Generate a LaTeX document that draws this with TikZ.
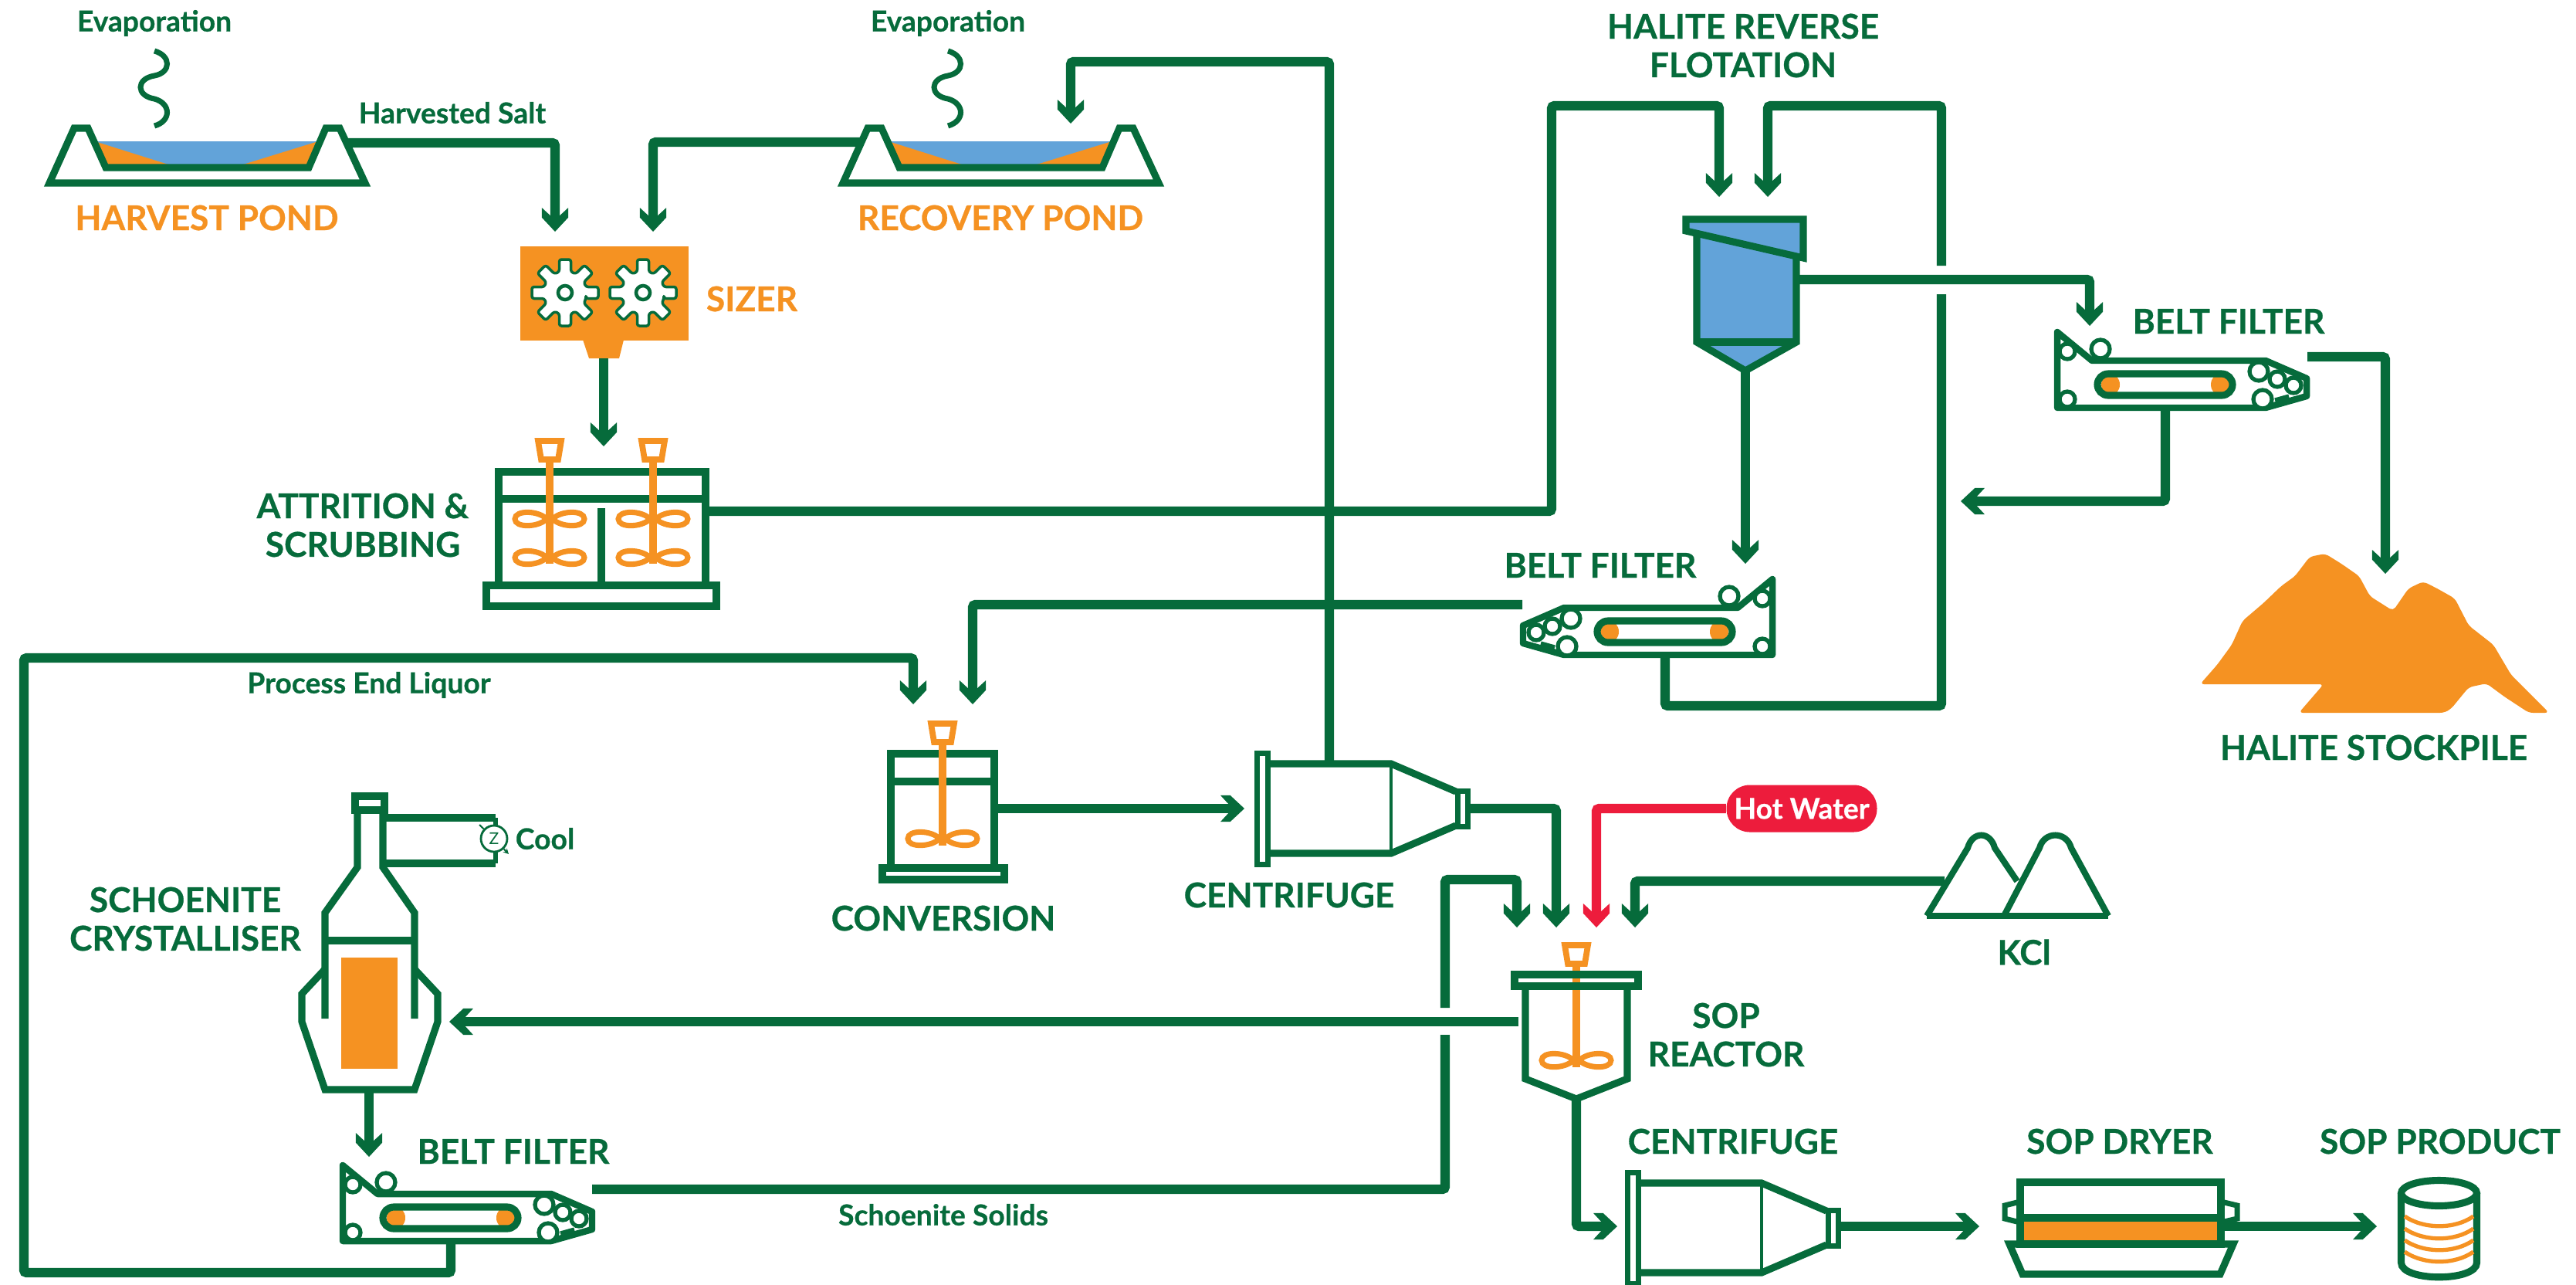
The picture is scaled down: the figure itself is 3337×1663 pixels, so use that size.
\documentclass[tikz,border=0pt]{standalone}
\usepackage{fontspec}
\setmainfont{Lato}[BoldFeatures={FakeBold=0.6}]
\usetikzlibrary{arrows.meta}

\definecolor{pipegreen}{HTML}{066B3B}
\definecolor{solidorange}{HTML}{F59222}
\definecolor{brineblue}{HTML}{62A3D9}
\definecolor{hotred}{HTML}{ED1C3C}

\pgfdeclarearrow{
    name=PipeHead,
    setup code={
        \pgfarrowssettipend{0pt}
        \pgfarrowssetlineend{-5.5pt}
        \pgfarrowssetvisualbackend{-8.8pt}
        \pgfarrowssetbackend{-8.8pt}
    },
    drawing code={
        \pgfpathmoveto{\pgfqpoint{0pt}{0pt}}
        \pgfpathlineto{\pgfqpoint{-5.2pt}{4.85pt}}
        \pgfpathlineto{\pgfqpoint{-8.8pt}{4.85pt}}
        \pgfpathlineto{\pgfqpoint{-5.9pt}{1.7pt}}
        \pgfpathlineto{\pgfqpoint{-5.9pt}{-1.7pt}}
        \pgfpathlineto{\pgfqpoint{-8.8pt}{-4.85pt}}
        \pgfpathlineto{\pgfqpoint{-5.2pt}{-4.85pt}}
        \pgfpathclose
        \pgfusepathqfill
    }
}

\tikzset{
    pipe/.style={draw=pipegreen, line width=3.5pt, rounded corners=1pt},
    flow/.style={pipe, -{PipeHead}},
    unit/.style={draw=pipegreen, line width=2.6pt, line join=miter},
    stirrer/.style={draw=solidorange, line width=2.6pt},
    blade/.style={draw=solidorange, line width=2pt},
    big_label/.style={font=\bfseries\fontsize{12.6}{14.2}\selectfont, text=pipegreen, align=center, inner sep=0pt},
    pond_label/.style={big_label, text=solidorange},
    small_label/.style={font=\bfseries\fontsize{10.6}{12}\selectfont, text=pipegreen, inner sep=0pt},
    pond/.pic={
        \fill[brineblue] (62,-54) -- (348,-54) -- (336,-24) -- (73,-24) -- cycle;
        \fill[solidorange] (62,-53) -- (154,-24) -- (73,-24) -- cycle;
        \fill[solidorange] (345,-53) -- (251,-24) -- (336,-24) -- cycle;
        \draw[unit] (0,0) -- (32,-71) -- (50,-71) -- (73,-20) -- (336,-20) -- (358,-71) -- (376,-71) -- (409,0) -- cycle;
        \draw[draw=pipegreen, line width=2pt] (136,-171) .. controls (158,-165) and (158,-143) .. (136,-139) .. controls (112,-135) and (112,-113) .. (136,-109) .. controls (158,-103) and (158,-80) .. (136,-74);
    },
    gear/.pic={
        \draw[draw=pipegreen, line width=1pt, fill=white, line join=round, rounded corners=0.8pt] (27,7.5) \foreach \a in {0,45,...,315} {-- ([rotate=\a]27,7.5) -- ([rotate=\a]43,7.5) -- ([rotate=\a]43,-7.5) -- ([rotate=\a]27,-7.5)} -- cycle;
        \draw[draw=pipegreen, line width=1.3pt, fill=white] (0,0) circle[radius=9];
    },
    cup/.pic={
        \draw[draw=solidorange, line width=2.2pt, fill=white] (-15,-28) -- (15,-28) -- (11,-4) -- (-11,-4) -- cycle;
    },
    blades/.pic={
        \draw[blade] (-4,0) .. controls (-14,-11) and (-45,-12) .. (-45,0) .. controls (-45,12) and (-14,11) .. (-4,0);
        \draw[blade] (4,0) .. controls (14,-11) and (45,-12) .. (45,0) .. controls (45,12) and (14,11) .. (4,0);
    },
    belt_filter/.pic={
        \fill[solidorange] (69,-30) ellipse[x radius=12, y radius=14];
        \fill[solidorange] (211,-30) ellipse[x radius=12, y radius=14];
        \draw[unit, line join=round, line width=2.4pt] (0,0) -- (0,-98) -- (45,-61) -- (270,-61) -- (323,-38) -- (323,-15) -- (270,0) -- cycle;
        \draw[unit, rounded corners=4pt] (52,-44) rectangle (227,-16);
        \draw[draw=pipegreen, line width=1.5pt, fill=white] (13,-73) circle[radius=10];
        \draw[draw=pipegreen, line width=1.5pt, fill=white] (56,-76) circle[radius=12];
        \draw[draw=pipegreen, line width=1.5pt, fill=white] (13,-11) circle[radius=10];
        \draw[draw=pipegreen, line width=1.5pt, fill=white] (261,-47) circle[radius=12];
        \draw[draw=pipegreen, line width=1.5pt, fill=white] (285,-37) circle[radius=10];
        \draw[draw=pipegreen, line width=1.5pt, fill=white] (306,-29) circle[radius=10];
        \draw[draw=pipegreen, line width=1.5pt, fill=white] (266,-11) circle[radius=12];
        \draw[draw=pipegreen, line width=1.5pt] (282,-10) -- (300,-15);
    },
    centrifuge/.pic={
        \draw[unit, line width=2pt] (3.5,-72) rectangle (17.5,72);
        \draw[unit] (21,-58) -- (177,-58) -- (261,-22);
        \draw[unit] (21,58) -- (177,58) -- (261,22);
        \draw[draw=pipegreen, line width=1.2pt] (177,-58) -- (177,58);
        \draw[unit, line width=2pt] (263,-23) rectangle (276,23);
    },
}

\begin{document}
\begin{tikzpicture}[x=0.1mm, y=-0.1mm]
    \useasboundingbox (0,0) rectangle (3337,1663);

    \coordinate (harvest_out) at (450,185) ;
    \coordinate (recovery_out) at (1116,184) ;
    \coordinate (recovery_in) at (1387,160) ;
    \coordinate (recycle_corner) at (1387,80) ;
    \coordinate (sizer_in_a) at (719,300) ;
    \coordinate (sizer_in_b) at (846,300) ;
    \coordinate (sizer_out) at (782,464) ;
    \coordinate (attrition_in) at (782,578) ;
    \coordinate (attrition_out) at (914,662) ;
    \coordinate (flot_corner_a) at (2010,137) ;
    \coordinate (flot_corner_b) at (2515,137) ;
    \coordinate (flot_in_a) at (2227,255) ;
    \coordinate (flot_in_b) at (2290,255) ;
    \coordinate (flot_side) at (2327,362) ;
    \coordinate (flot_bottom) at (2261,480) ;
    \coordinate (gap_high) at (2515,344) ;
    \coordinate (gap_low) at (2515,381) ;
    \coordinate (return_corner) at (2515,914) ;
    \coordinate (belt_top_in) at (2707,422) ;
    \coordinate (belt_top_out) at (2989,462) ;
    \coordinate (belt_top_under) at (2805,528) ;
    \coordinate (halite_return) at (2540,649) ;
    \coordinate (stock_in) at (3090,743) ;
    \coordinate (belt_mid_in) at (2261,730) ;
    \coordinate (belt_mid_out) at (1972,783) ;
    \coordinate (belt_mid_under) at (2157,848) ;
    \coordinate (conv_in_a) at (1183,912) ;
    \coordinate (conv_in_b) at (1260,912) ;
    \coordinate (conv_out) at (1288,1047) ;
    \coordinate (liquor_a) at (31,1648) ;
    \coordinate (liquor_b) at (1183,852) ;
    \coordinate (cent_a_in) at (1612,1047) ;
    \coordinate (cent_a_top) at (1722,989) ;
    \coordinate (cent_a_out) at (1901,1047) ;
    \coordinate (reactor_in_a) at (1965,1201) ;
    \coordinate (reactor_in_b) at (2016,1201) ;
    \coordinate (reactor_in_c) at (2068,1201) ;
    \coordinate (reactor_in_d) at (2118,1201) ;
    \coordinate (reactor_left) at (1967,1323) ;
    \coordinate (reactor_bottom) at (2042,1423) ;
    \coordinate (solids_corner) at (1965,1139) ;
    \coordinate (kcl_out) at (2519,1141) ;
    \coordinate (cryst_in) at (582,1323) ;
    \coordinate (cryst_out) at (478,1411) ;
    \coordinate (belt_low_in) at (478,1498) ;
    \coordinate (belt_low_out) at (767,1540) ;
    \coordinate (belt_low_under) at (584,1607) ;
    \coordinate (solids_low) at (1872,1340) ;
    \coordinate (solids_high) at (1872,1305) ;
    \coordinate (cent_b_in) at (2095,1588) ;
    \coordinate (cent_b_out) at (2381,1588) ;
    \coordinate (dryer_in) at (2564,1588) ;
    \coordinate (dryer_out) at (2881,1588) ;
    \coordinate (product_in) at (3079,1588) ;

    \pic at (64,237) {pond} ;
    \pic at (1092,237) {pond} ;
    \node[small_label] (evap_harvest) at (200,30) {Evaporation} ;
    \node[small_label] (evap_recovery) at (1228,30) {Evaporation} ;
    \node[pond_label] (harvest_label) at (268,282) {HARVEST POND} ;
    \node[pond_label] (recovery_label) at (1296,282) {RECOVERY POND} ;
    \node[small_label] (salt_label) at (586,146) {Harvested Salt} ;

    \node[fill=solidorange, minimum width=21.8mm, minimum height=12.2mm, inner sep=0pt] (sizer) at (783,380) {} ;
    \fill[solidorange] (755,440) -- (808,440) -- (802,464) -- (763,464) -- cycle;
    \pic at (732,379) {gear} ;
    \pic at (833,379) {gear} ;
    \node[pond_label] (sizer_label) at (974,387) {SIZER} ;

    \draw[unit] (646,611) rectangle (914,758);
    \draw[unit] (646,646) -- (914,646);
    \draw[unit] (779,658) -- (779,758);
    \draw[unit] (630,758) rectangle (928,785);
    \draw[stirrer] (712,599) -- (712,730);
    \draw[stirrer] (846,599) -- (846,730);
    \pic at (712,599) {cup} ;
    \pic at (846,599) {cup} ;
    \pic at (712,672) {blades} ;
    \pic at (712,722) {blades} ;
    \pic at (846,672) {blades} ;
    \pic at (846,722) {blades} ;
    \node[big_label] (attrition_label) at (470,680) {ATTRITION \&\\SCRUBBING} ;

    \node[big_label] (flot_label) at (2258,59) {HALITE REVERSE\\FLOTATION} ;
    \draw[unit, fill=brineblue] (2198,300) -- (2198,443) -- (2261,480) -- (2327,443) -- (2327,330) -- cycle;
    \draw[unit] (2198,443) -- (2327,443);
    \draw[unit, fill=brineblue] (2184,284) -- (2336,284) -- (2336,334) -- (2184,299) -- cycle;

    \pic at (2665,528) {belt_filter} ;
    \node[big_label] (belt_top_label) at (2887,416) {BELT FILTER} ;
    \pic[xscale=-1] at (2296,848) {belt_filter} ;
    \node[big_label] (belt_mid_label) at (2073,732) {BELT FILTER} ;
    \pic at (444,1607) {belt_filter} ;
    \node[big_label] (belt_low_label) at (665,1491) {BELT FILTER} ;

    \fill[solidorange, rounded corners=1.5pt] (2850,886) -- (2872,861) -- (2891,835) -- (2905,804) -- (2932,781) -- (2955,759) -- (2973,746) -- (2992,721) -- (3012,717) -- (3033,730) -- (3056,746) -- (3070,772) -- (3100,791) -- (3120,762) -- (3139,753) -- (3157,762) -- (3180,775) -- (3198,810) -- (3230,835) -- (3253,874) -- (3302,923) -- (3276,923) -- (3244,902) -- (3221,885) -- (3198,890) -- (3175,918) -- (3166,923) -- (2978,923) -- (3010,886) -- cycle;
    \node[big_label] (stock_label) at (3075,968) {HALITE STOCKPILE} ;

    \draw[unit] (1154,976) rectangle (1288,1124);
    \draw[unit] (1154,1012) -- (1288,1012);
    \draw[unit] (1143,1124) rectangle (1301,1139);
    \draw[stirrer] (1221,965) -- (1221,1095);
    \pic at (1221,965) {cup} ;
    \pic at (1221,1086) {blades} ;
    \node[big_label] (conv_label) at (1222,1189) {CONVERSION} ;

    \pic at (1625,1047) {centrifuge} ;
    \node[big_label] (cent_a_label) at (1670,1159) {CENTRIFUGE} ;
    \pic at (2105,1590) {centrifuge} ;
    \node[big_label] (cent_b_label) at (2245,1478) {CENTRIFUGE} ;

    \fill[solidorange] (442,1240) rectangle (515,1384);
    \draw[unit] (460,1031) rectangle (498,1049);
    \draw[unit] (463,1054) -- (463,1123) -- (421,1182) -- (421,1319);
    \draw[unit] (496,1054) -- (496,1123) -- (537,1182) -- (537,1319);
    \draw[unit] (421,1218) -- (537,1218);
    \draw[unit] (421,1255) -- (391,1287) -- (391,1323) -- (421,1411) -- (537,1411) -- (567,1323) -- (567,1287) -- (537,1255);
    \draw[unit] (496,1059) -- (642,1059);
    \draw[unit] (496,1118) -- (642,1118);
    \draw[draw=pipegreen, line width=1.5pt] (642,1059) -- (642,1118);
    \node[circle, draw=pipegreen, line width=0.8pt, fill=white, minimum size=3.4mm, inner sep=0pt, font=\fontsize{6}{6}\selectfont, text=pipegreen] (cool_z) at (640,1086) {Z} ;
    \draw[draw=pipegreen, line width=0.6pt, -{Stealth[length=2pt,width=2pt]}] (621,1068) -- (cool_z) -- (659,1106);
    \node[small_label] (cool_label) at (706,1086) {Cool} ;
    \node[big_label] (cryst_label) at (240,1190) {SCHOENITE\\CRYSTALLISER} ;
    \node[small_label] (end_liquor_label) at (478,887) {Process End Liquor} ;
    \node[small_label] (solids_label) at (1222,1573) {Schoenite Solids} ;

    \node[fill=hotred, rounded corners=8.6pt, minimum width=19.5mm, minimum height=6.1mm, inner sep=0pt, font=\bfseries\fontsize{10.6}{12}\selectfont, text=white] (hot_water) at (2334,1047) {Hot Water} ;

    \draw[unit, line width=2.3pt] (2496,1186) -- (2731,1186);
    \draw[unit, line width=2.3pt] (2496,1186) -- (2549,1098) .. controls (2555,1076) and (2578,1076) .. (2584,1098) -- (2613,1141);
    \draw[unit, line width=2.3pt] (2596,1186) -- (2642,1098) .. controls (2648,1076) and (2677,1076) .. (2683,1098) -- (2731,1186);
    \node[big_label] (kcl_label) at (2622,1233) {KCl} ;

    \draw[stirrer] (2042,1250) -- (2042,1382);
    \pic at (2042,1252) {cup} ;
    \pic at (2042,1373) {blades} ;
    \draw[unit] (1962,1262) rectangle (2122,1277);
    \draw[unit] (1976,1281) -- (1976,1397) -- (2042,1423) -- (2108,1397) -- (2108,1281);
    \node[big_label] (reactor_label) at (2236,1340) {SOP\\REACTOR} ;

    \fill[solidorange] (2622,1582) rectangle (2872,1607);
    \draw[unit] (2617,1531) rectangle (2877,1611);
    \draw[unit] (2617,1577) -- (2877,1577);
    \draw[unit] (2603,1611) -- (2893,1611) -- (2876,1650) -- (2620,1650) -- cycle;
    \draw[unit, line width=2pt] (2617,1556) -- (2597,1561) -- (2597,1578) -- (2617,1583);
    \draw[unit, line width=2pt] (2877,1556) -- (2898,1561) -- (2898,1578) -- (2877,1583);
    \node[big_label] (dryer_label) at (2746,1478) {SOP DRYER} ;

    \draw[unit] (3110.5,1545) -- (3110.5,1635) .. controls (3110.5,1660) and (3208.5,1660) .. (3208.5,1635) -- (3208.5,1545);
    \draw[stirrer, line width=1.5pt] (3115,1575) .. controls (3140,1592) and (3180,1592) .. (3204,1575);
    \draw[stirrer, line width=1.5pt] (3115,1591) .. controls (3140,1608) and (3180,1608) .. (3204,1591);
    \draw[stirrer, line width=1.5pt] (3115,1606) .. controls (3140,1623) and (3180,1623) .. (3204,1606);
    \draw[stirrer, line width=1.5pt] (3115,1621) .. controls (3140,1638) and (3180,1638) .. (3204,1621);
    \draw[unit] (3159.5,1545) ellipse[x radius=49, y radius=16.5];
    \node[big_label] (product_label) at (3161,1478) {SOP PRODUCT} ;

    \draw[flow] (harvest_out) -| (sizer_in_a) ;
    \draw[flow] (recovery_out) -| (sizer_in_b) ;
    \draw[flow] (sizer_out) -- (attrition_in) ;
    \draw[flow] (attrition_out) -| (flot_corner_a) -| (flot_in_a) ;
    \draw[flow] (gap_high) -- (flot_corner_b) -| (flot_in_b) ;
    \draw[flow] (flot_side) -| (belt_top_in) ;
    \draw[flow] (flot_bottom) -- (belt_mid_in) ;
    \draw[flow] (belt_top_out) -| (stock_in) ;
    \draw[flow] (belt_top_under) |- (halite_return) ;
    \draw[pipe] (belt_mid_under) |- (return_corner) -- (gap_low) ;
    \draw[flow] (belt_mid_out) -| (conv_in_b) ;
    \draw[flow] (belt_low_under) |- (liquor_a) |- (liquor_b) -- (conv_in_a) ;
    \draw[flow] (conv_out) -- (cent_a_in) ;
    \draw[flow] (cent_a_top) |- (recycle_corner) -- (recovery_in) ;
    \draw[flow] (cent_a_out) -| (reactor_in_b) ;
    \draw[flow, draw=hotred] (hot_water.west) -| (reactor_in_c) ;
    \draw[flow] (kcl_out) -| (reactor_in_d) ;
    \draw[flow] (reactor_left) -- (cryst_in) ;
    \draw[flow] (cryst_out) -- (belt_low_in) ;
    \draw[pipe] (belt_low_out) -| (solids_low) ;
    \draw[flow] (solids_high) |- (solids_corner) -- (reactor_in_a) ;
    \draw[flow] (reactor_bottom) |- (cent_b_in) ;
    \draw[flow] (cent_b_out) -- (dryer_in) ;
    \draw[flow] (dryer_out) -- (product_in) ;

\end{tikzpicture}
\end{document}
